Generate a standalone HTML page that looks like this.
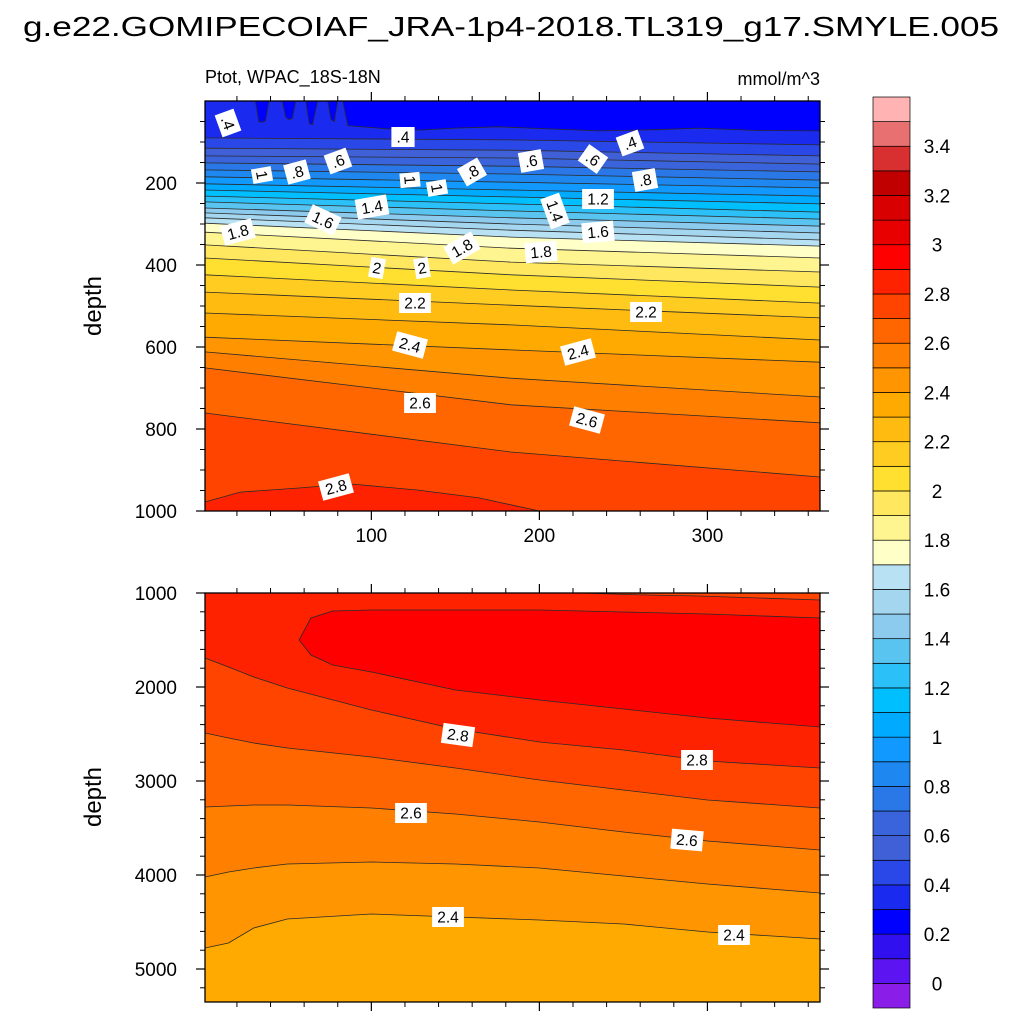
<!DOCTYPE html>
<html><head><meta charset="utf-8"><style>
html,body{margin:0;padding:0;background:#fff;}
svg{display:block;font-family:"Liberation Sans",sans-serif;}
</style></head><body>
<svg id="chart" width="1024" height="1024" viewBox="0 0 1024 1024" xmlns="http://www.w3.org/2000/svg">
<rect width="1024" height="1024" fill="#fff"/>
<text x="511" y="36" font-size="28" text-anchor="middle" textLength="976" lengthAdjust="spacingAndGlyphs">g.e22.GOMIPECOIAF_JRA-1p4-2018.TL319_g17.SMYLE.005</text>
<text x="205" y="83" font-size="18">Ptot, WPAC_18S-18N</text>
<text x="820" y="85" font-size="18" text-anchor="end">mmol/m^3</text>
<text x="0" y="0" font-size="24" text-anchor="middle" transform="translate(101,306) rotate(-90)">depth</text>
<text x="0" y="0" font-size="24" text-anchor="middle" transform="translate(101,797) rotate(-90)">depth</text>
<g id="topPanel"></g>
<g id="botPanel"></g>
<g id="cbar"></g>
</svg>
<script>
// ---- data ----
const palette = ["#8a1ee8","#5c14f0","#3010ee","#0000ff","#1a2aee","#2a48e8","#4060d8","#3a64dc","#2a78e8","#1e88f0","#1199ff","#00aaff","#00bfff","#2bc0f8","#5ac4f0","#8ccaee","#a4d6f0","#b8e2f4","#ffffc8","#fff590","#ffe860","#ffe030","#ffcc22","#ffbb10","#ffaa00","#ff9500","#ff7f00","#ff6600","#ff4400","#ff2200","#ff0000","#e80000","#d80000","#c00000","#d83030","#e87070","#ffb3b3"];
const cbarLabels = [0,0.2,0.4,0.6,0.8,1,1.2,1.4,1.6,1.8,2,2.2,2.4,2.6,2.8,3,3.2,3.4];
const topDays = [1,183,367];
const topLevels = [0.4,0.5,0.6,0.7,0.8,0.9,1.0,1.1,1.2,1.3,1.4,1.5,1.6,1.7,1.8,1.9,2.0,2.1,2.2,2.3,2.4,2.5,2.6,2.7];
const topDepths = [[90,95,107],[115,120,134],[134,139,154],[151,159,173],[168,178,193],[185,198,212],[202,217,232],[217,234,251],[232,251,271],[246,268,288],[261,285,305],[273,300,322],[285,315,339],[298,332,354],[320,359,383],[351,393,417],[383,424,454],[424,461,493],[466,498,529],[517,546,583],[576,607,637],[612,676,722],[651,741,785],[761,856,917]];
const surfDays = [1,31,33,35,37,39,47,49,51,53,55,61,63,65,68,70,74,76,78,80,83,86,110,129,150,176,200,236,270,295,330,367];
const surfDepths = [0,0,50,52,48,0,0,40,45,42,0,0,55,58,0,0,0,45,50,0,0,60,68,71,66,63,67,73,70,66,72,73];
const deepBumpDays = [1,22,57,87,128,164,200];
const deepBumpDepths = [978,954,944,934,949,968,1000];
const botDays = [1,15,30,50,100,150,200,250,300,367];
const botLevels = [2.8,2.7,2.6,2.5,2.4];
const botDepths = [
 [1691,1787,1894,2011,2245,2447,2585,2670,2787,2862],
 [2489,2543,2596,2649,2745,2862,2989,3096,3202,3287],
 [3277,3266,3255,3255,3287,3351,3436,3543,3638,3734],
 [4021,3968,3926,3883,3862,3883,3926,4011,4096,4191],
 [4777,4723,4564,4468,4415,4447,4479,4521,4606,4681]];
const maxDays = [57,64,77,100,150,200,250,300,367];
const maxTop = [1500,1266,1191,1181,1181,1181,1202,1223,1266];
const maxBot = [1500,1660,1766,1840,2032,2138,2234,2330,2426];
const capDays = [224,260,295,367];
const capDepths = [1000,1020,1032,1074];
const topLabels = [[228,123,".4",70],[403,137,".4",0],[630,143,".4",-20],[262,175,"1",80],[297,172,".8",-15],[338,161,".6",-20],[410,180,"1",85],[437,188,"1",80],[472,172,".8",-30],[531,161,".6",-10],[593,159,".6",35],[645,180,".8",-10],[372,207,"1.4",-10],[555,211,"1.4",70],[598,199,"1.2",0],[323,220,"1.6",25],[598,232,"1.6",-5],[238,232,"1.8",-15],[462,248,"1.8",-30],[541,252,"1.8",-5],[377,268,"2",10],[422,268,"2",-10],[415,303,"2.2",0],[646,312,"2.2",0],[410,345,"2.4",15],[578,352,"2.4",-15],[420,403,"2.6",0],[587,420,"2.6",15],[336,487,"2.8",-15]];
const botLabels = [[458,735,"2.8",8],[697,760,"2.8",0],[411,813,"2.6",0],[687,840,"2.6",5],[448,917,"2.4",0],[734,935,"2.4",0]];

// ---- scales ----
const X0=205,X1=820;
function xS(d){return X0+(d-1)*(X1-X0)/366;}
function yTop(z){return 101+z*0.41;}
function yBot(z){return 593+(z-1000)*0.094;}
function col(lo){return palette[Math.round(lo*10)+1];}
const NS="http://www.w3.org/2000/svg";
function mk(tag,attrs,parent){const e=document.createElementNS(NS,tag);for(const k in attrs)e.setAttribute(k,attrs[k]);parent.appendChild(e);return e;}
function pts(days,deps,ys){return days.map((d,i)=>xS(d).toFixed(1)+","+ys(deps[i]).toFixed(1));}

const tp=document.getElementById('topPanel'), bp=document.getElementById('botPanel'), cb=document.getElementById('cbar');

// ---- top panel ----
let r=mk('rect',{x:X0,y:101,width:X1-X0,height:410,fill:col(0.2)},tp);


function fillBelow(g,days,deps,ys,bottom,fill,name){
  const p=pts(days,deps,ys);
  p.push(xS(days[days.length-1]).toFixed(1)+","+ys(bottom));
  p.push(xS(days[0]).toFixed(1)+","+ys(bottom));
  const e=mk('polygon',{points:p.join(" "),fill:fill},g);
  
  
}
function strokeLine(g,days,deps,ys,name){
  const e=mk('polyline',{points:pts(days,deps,ys).join(" "),fill:"none",stroke:"#2a2a2a","stroke-width":0.8},g);
  
  
}
fillBelow(tp,surfDays,surfDepths,yTop,1000,col(0.3),'band-0.3');
topLevels.forEach((L,i)=>fillBelow(tp,topDays,topDepths[i],yTop,1000,col(L),'band-'+L));
fillBelow(tp,deepBumpDays,deepBumpDepths,yTop,1000,col(2.8),'band-2.8');
strokeLine(tp,surfDays,surfDepths,yTop,'contour-0.3');
topLevels.forEach((L,i)=>strokeLine(tp,topDays,topDepths[i],yTop,'contour-'+L));
strokeLine(tp,deepBumpDays,deepBumpDepths,yTop,'contour-2.8');

// ---- bottom panel ----
r=mk('rect',{x:X0,y:593,width:X1-X0,height:409,fill:col(2.8)},bp);


botLevels.forEach((L,i)=>fillBelow(bp,botDays,botDepths[i],yBot,5351,col(L-0.1),'band-'+(L-0.1).toFixed(1)));
(function(){
  const p=pts(maxDays,maxTop,yBot).concat(pts(maxDays,maxBot,yBot).reverse());
  const e=mk('polygon',{points:p.join(" "),fill:col(2.9),stroke:"#2a2a2a","stroke-width":0.8},bp);
  
  
  const c=pts(capDays,capDepths,yBot);
  c.push(xS(367)+","+yBot(1000)); c.push(xS(224)+","+yBot(1000));
  const e2=mk('polygon',{points:c.join(" "),fill:col(2.7)},bp);
  
  
})();
strokeLine(bp,capDays,capDepths,yBot,'contour-2.8-cap');
botLevels.forEach((L,i)=>strokeLine(bp,botDays,botDepths[i],yBot,'contour-'+L));

// ---- labels ----
function addLabels(g,list){
  list.forEach(l=>{
    const gg=mk('g',{transform:`translate(${l[0]},${l[1]}) rotate(${l[3]})`},g);
    
    
    const w=l[2].length*8.6+6;
    mk('rect',{x:-w/2,y:-10,width:w,height:20,fill:"#fff"},gg);
    const t=mk('text',{x:0,y:5.5,"font-size":15.5,"text-anchor":"middle",fill:"#000"},gg);
    t.textContent=l[2];
  });
}
addLabels(tp,topLabels);
addLabels(bp,botLabels);

// ---- axes ----
function axes(g,y0,y1,ys,majors,minors,xLabels){
  const f=mk('rect',{x:X0,y:y0,width:X1-X0,height:y1-y0,fill:"none",stroke:"#000","stroke-width":1.3},g);
  
  
  majors.forEach(v=>{const y=ys(v);
    mk('line',{x1:X0-9,x2:X0,y1:y,y2:y,stroke:"#000","stroke-width":1.2},g);
    mk('line',{x1:X1,x2:X1+9,y1:y,y2:y,stroke:"#000","stroke-width":1.2},g);
    const t=mk('text',{x:X0-28,y:y+7,"font-size":19,"text-anchor":"end"},g);
    
    
    t.textContent=v;});
  minors.forEach(v=>{const y=ys(v);
    mk('line',{x1:X0-5,x2:X0,y1:y,y2:y,stroke:"#000","stroke-width":1},g);
    mk('line',{x1:X1,x2:X1+5,y1:y,y2:y,stroke:"#000","stroke-width":1},g);});
  for(let d=20;d<=360;d+=20){const x=xS(d);const maj=d%100===0;const L=maj?9:5;
    mk('line',{x1:x,x2:x,y1:y0-L,y2:y0,stroke:"#000","stroke-width":maj?1.2:1},g);
    mk('line',{x1:x,x2:x,y1:y1,y2:y1+L,stroke:"#000","stroke-width":maj?1.2:1},g);
    if(maj&&xLabels){const t=mk('text',{x:x,y:y1+31,"font-size":19,"text-anchor":"middle"},g);
      
      
      t.textContent=d;}}
}
const topMaj=[200,400,600,800,1000], topMin=[];
for(let v=50;v<1000;v+=50) if(v%200) topMin.push(v);
axes(tp,101,511,yTop,topMaj,topMin,true);
const botMaj=[1000,2000,3000,4000,5000], botMin=[];
for(let v=1200;v<5351;v+=200) if(v%1000) botMin.push(v);
axes(bp,593,1002,yBot,botMaj,botMin,false);

// ---- colorbar ----
const cbTop=97, cbBot=1008, bh=(cbBot-cbTop)/palette.length;
palette.forEach((c,j)=>{
  const e=mk('rect',{x:873,y:cbBot-(j+1)*bh,width:37,height:bh,fill:c,stroke:"#000","stroke-width":0.7},cb);
  
  
});
cbarLabels.forEach(v=>{
  const y=cbBot-(Math.round(v*10)+1)*bh;
  const t=mk('text',{x:937,y:y+7,"font-size":19,"text-anchor":"middle"},cb);
  
  
  t.textContent=v;
});
</script>
</body></html>
